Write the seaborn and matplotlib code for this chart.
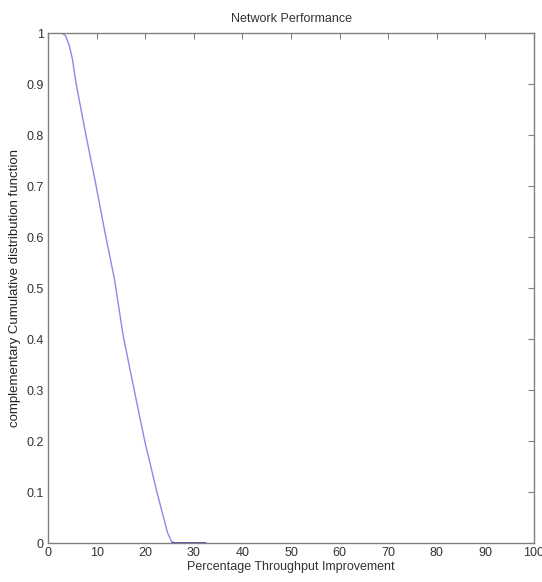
import matplotlib
matplotlib.use("Agg")
import matplotlib.pyplot as plt
import seaborn as sns
import pandas as pd

# complementary CDF of throughput improvement
improvement = [2.9, 3.6, 4.4, 5.0, 5.8, 7.8, 9.7, 11.7, 13.7, 15.4, 17.3, 19.9, 22.4, 24.6, 25.4, 26.0]
ccdf = [1.0, 0.995, 0.975, 0.95, 0.9, 0.8, 0.71, 0.61, 0.516, 0.41, 0.32, 0.2, 0.1, 0.02, 0.003, 0.0]

# flat tail at zero
tail_x = [25.5, 32.3]
tail_y = [0.0, 0.0]

x_ticks = list(range(0, 101, 10))
y_ticks = [0, 0.1, 0.2, 0.3, 0.4, 0.5, 0.6, 0.7, 0.8, 0.9, 1]
y_labels = ["0", "0.1", "0.2", "0.3", "0.4", "0.5", "0.6", "0.7", "0.8", "0.9", "1"]

sns.set_style("white")
plt.rcParams["font.family"] = ["Liberation Sans", "DejaVu Sans"]

df = pd.DataFrame({"x": improvement, "y": ccdf})
df_tail = pd.DataFrame({"x": tail_x, "y": tail_y})

fig = plt.figure(figsize=(5.42, 5.82), dpi=100)
ax = fig.add_axes([0.0886, 0.067, 0.8967, 0.876])

sns.lineplot(data=df, x="x", y="y", ax=ax, color="#8a8ae6", linewidth=1.0, sort=False)
sns.lineplot(data=df_tail, x="x", y="y", ax=ax, color="#2020a0", linewidth=1.8, sort=False)

ax.set_xlim(0, 100)
ax.set_ylim(0, 1)
ax.set_xticks(x_ticks)
ax.set_yticks(y_ticks)
ax.set_yticklabels(y_labels)
ax.tick_params(direction="in", length=4, color="#808080", labelsize=9, pad=3,
               top=True, right=True, labelcolor="#333333")
for spine in ax.spines.values():
    spine.set_color("#808080")
    spine.set_linewidth(1.0)

ax.set_xlabel("Percentage Throughput Improvement", fontsize=9, labelpad=1, color="#333333")
ax.set_ylabel("complementary Cumulative distribution function", fontsize=9.5, labelpad=4, color="#222222")
ax.set_title("Network Performance", fontsize=9, pad=8, color="#333333")

fig.savefig("out.png", dpi=100)
